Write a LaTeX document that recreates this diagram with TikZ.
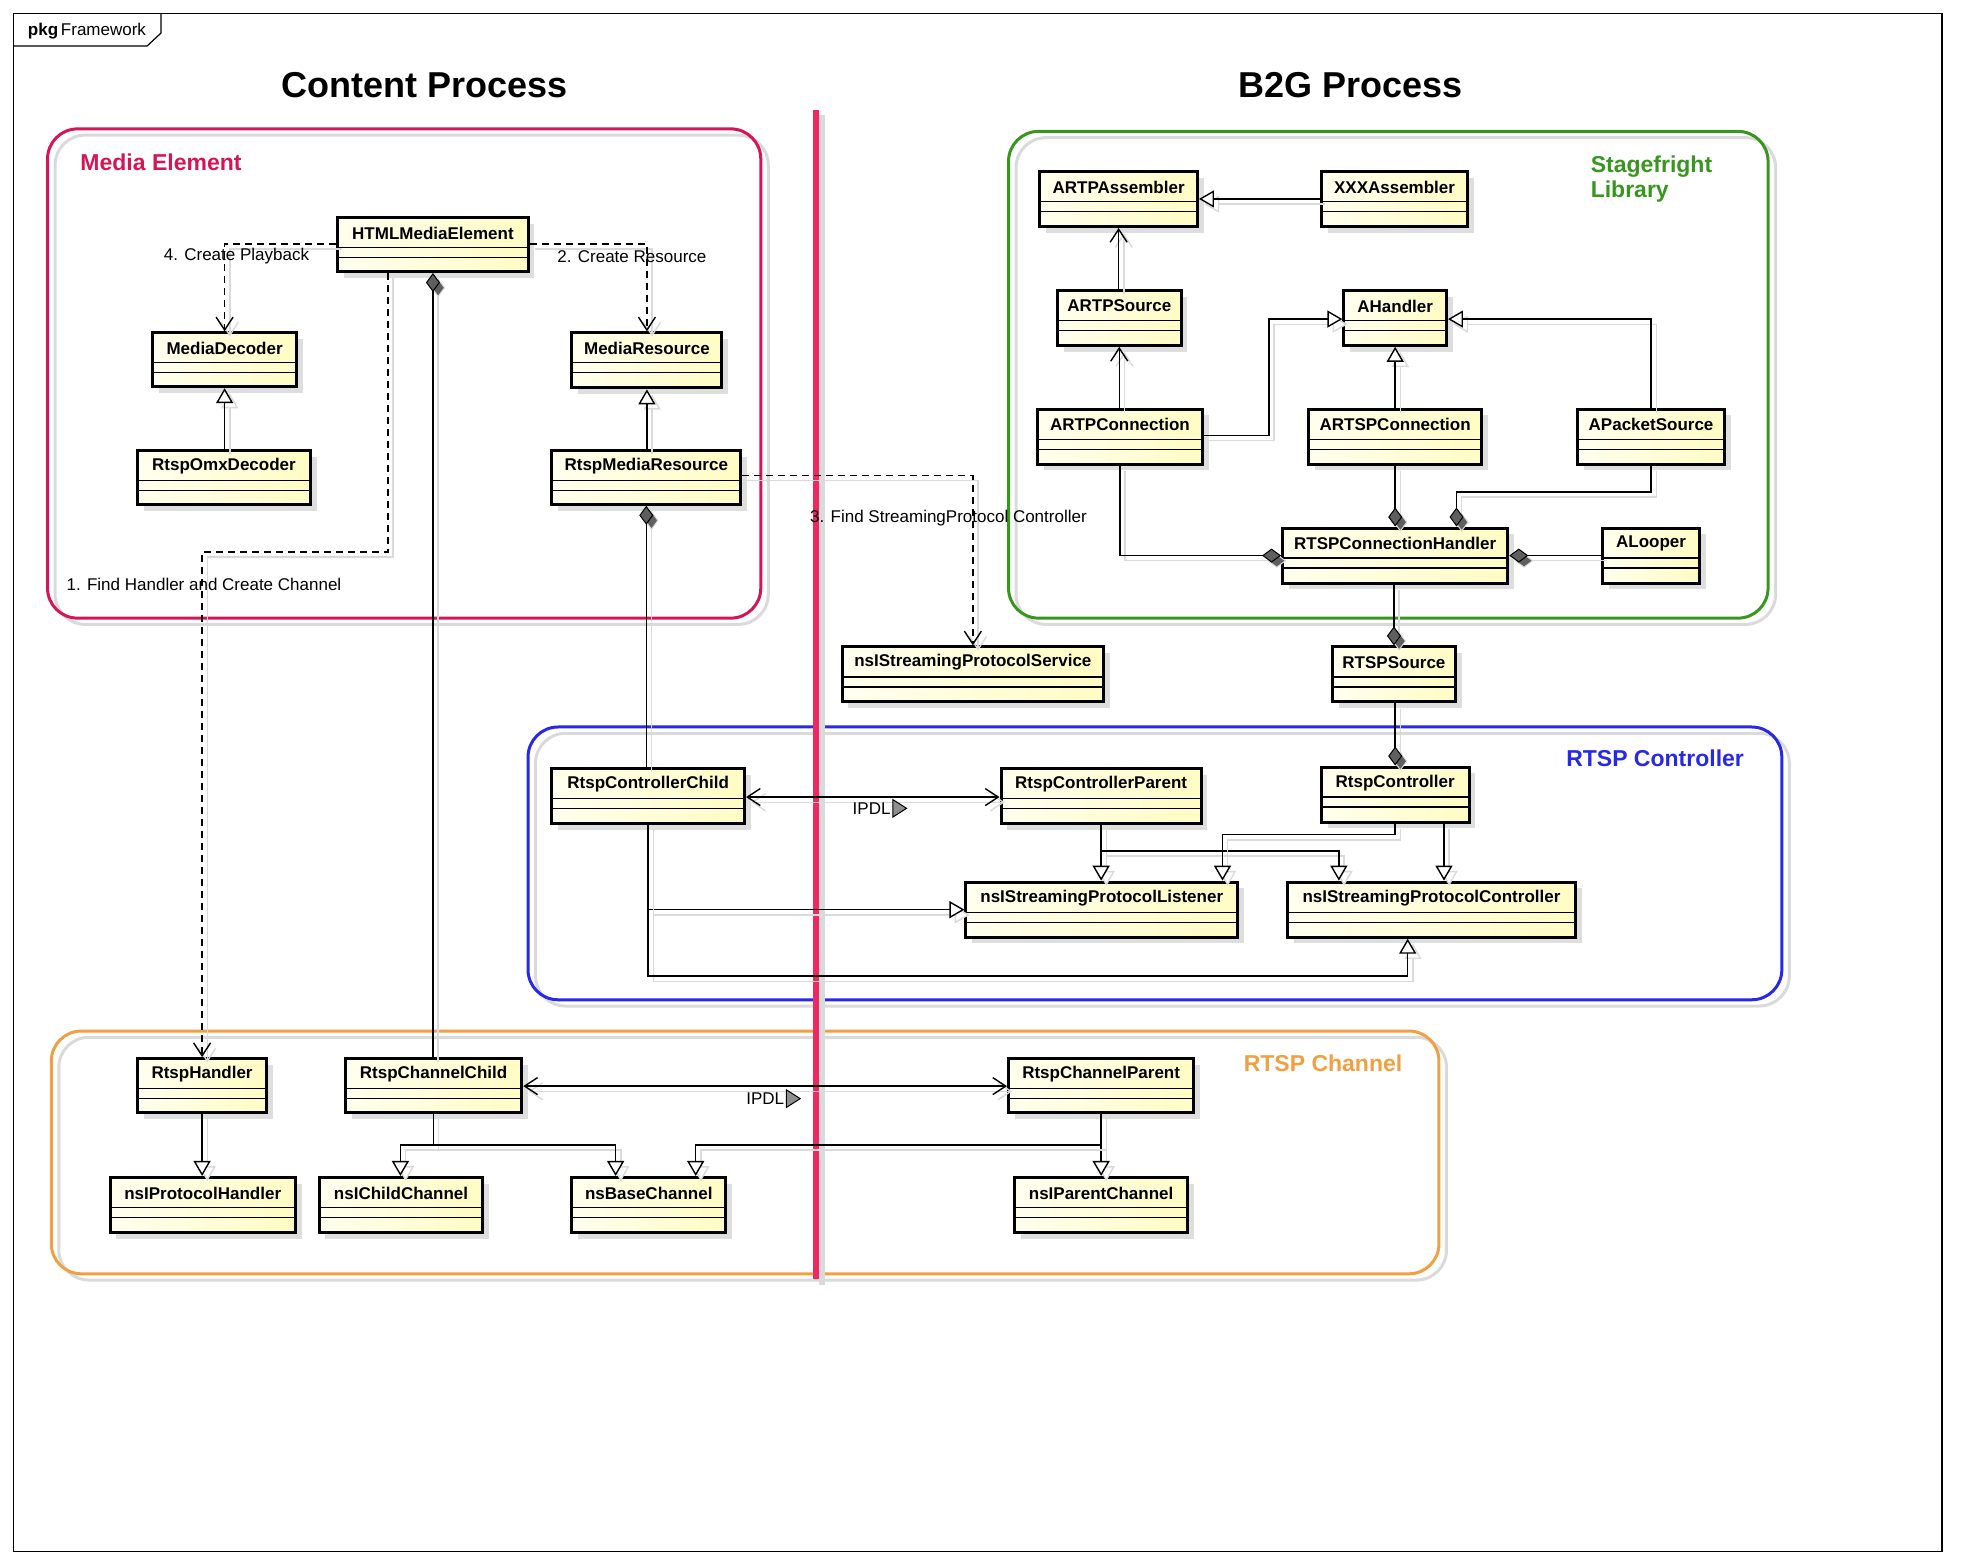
\documentclass[tikz,border=0pt]{standalone}
\usepackage{fontspec}
\setmainfont{Liberation Sans}
\usetikzlibrary{arrows.meta,fit,calc,shadings}
\definecolor{clsA}{RGB}{255,255,238}
\definecolor{clsB}{RGB}{255,252,196}
\definecolor{meC}{RGB}{214,22,84}
\definecolor{sfC}{RGB}{56,150,30}
\definecolor{rcC}{RGB}{40,40,230}
\definecolor{chC}{RGB}{240,160,64}
\definecolor{divC}{RGB}{240,40,95}
\definecolor{shadeC}{RGB}{222,222,222}
\definecolor{lineshC}{RGB}{218,218,218}
\definecolor{diaC}{RGB}{95,95,95}
\tikzset{
  clsbox/.style={draw=black, line width=1.5pt, inner sep=0pt, left color=clsA, right color=clsB},
  boxshadow/.style={fill=shadeC},
  sepline/.style={line width=0.6pt},
  clsname/.style={font=\bfseries\fontsize{8.5}{10}\selectfont, inner sep=0pt},
  lbl/.style={font=\fontsize{8.5}{10}\selectfont, inner sep=0pt},
  pkgttl/.style={font=\bfseries\fontsize{11.5}{12.5}\selectfont, inner sep=0pt},
  title/.style={font=\bfseries\fontsize{18}{20}\selectfont, inner sep=0pt},
  pkgframe/.style={line width=1.5pt, rounded corners=15pt},
  pkgshadow/.style={line width=1.5pt, rounded corners=15pt, draw=lineshC},
  conn/.style={line width=0.75pt, preaction={draw=lineshC, line width=0.7pt, transform canvas={shift={(2.6pt,-2.6pt)}}}},
  dashy/.style={dash pattern=on 3.5pt off 2.5pt},
  openarr/.style={-{Straight Barb[length=6.5pt,width=8.5pt,line width=0.7pt]}},
  biopen/.style={{Straight Barb[length=6.5pt,width=8.5pt,line width=0.7pt]}-{Straight Barb[length=6.5pt,width=8.5pt,line width=0.7pt]}},
  gen/.style={-{Triangle[length=7.5pt,width=8.5pt,fill=white,line width=0.7pt]}},
  comp/.style={{Diamond[length=9.5pt,width=7pt,fill=diaC,line width=0.5pt]}-},
}
\newcommand\umlcls[6]{%
  \fill[boxshadow] (#2+5,#3+5) rectangle (#4+5,#5+5);
  \node[clsbox, fit={(#2,#3) (#4,#5)}] (#1) {};
  \draw[sepline] (#2,#3+24) -- (#4,#3+24) (#2,#3+32) -- (#4,#3+32);
  \node[clsname] (#1-name) at ({(#2+#4)/2},#3+12.5) {#6};
}
\newcommand\ipdlmark[3]{%
  \node[lbl, anchor=east] (#1) at (#2,#3) {IPDL};
  \draw[line width=0.5pt, fill=diaC!70] ($(#1.east)+(1.5,-7)$) -- ++(11,7) -- ++(-11,7) -- cycle;
}
\begin{document}
\begin{tikzpicture}[x=0.62564pt,y=-0.62564pt]
\useasboundingbox (0,0) rectangle (1568,1251);
% outer frame
\draw[line width=0.6pt] (10.5,10.5) rectangle (1552,1240);
\draw[line width=0.6pt] (10.5,36.8) -- (117.5,36.8) -- (128.7,26.4) -- (128.7,10.5);
\node[lbl, anchor=west] (pkgtag) at (22,24.5) {\textbf{pkg}\,Framework};
% titles
\node[title] (tcontent) at (339,68) {Content Process};
\node[title] (tb2g) at (1079,68) {B2G Process};
% packages
\draw[pkgshadow] (44,108) rectangle (614,499);
\draw[pkgframe, draw=meC] (38,103) rectangle (608,494);
\node[pkgttl, text=meC, anchor=west] (pme) at (64,130) {Media Element};
\draw[pkgshadow] (812,110) rectangle (1419,499);
\draw[pkgframe, draw=sfC] (806,105) rectangle (1413,494);
\node[pkgttl, text=sfC, anchor=north west, align=left, font=\bfseries\fontsize{11.5}{12.6}\selectfont] (psf) at (1271,124) {Stagefright\\Library};
\draw[pkgshadow] (428,586) rectangle (1430,804);
\draw[pkgframe, draw=rcC] (422,581) rectangle (1424,799);
\node[pkgttl, text=rcC, anchor=east] (prc) at (1394,606) {RTSP Controller};
\draw[pkgshadow] (47,829) rectangle (1156,1023);
\draw[pkgframe, draw=chC] (41,824) rectangle (1150,1018);
\node[pkgttl, text=chC, anchor=east] (pch) at (1121,850) {RTSP Channel};
% divider
\draw[line width=3pt, lineshC] (657,92) -- (657,1027);
\draw[line width=3pt, divC] (652,88) -- (652,1022);
% classes
\umlcls{html}{270}{174}{422}{217}{HTMLMediaElement}
\umlcls{md}{122}{266}{237}{309}{MediaDecoder}
\umlcls{rod}{110}{360}{248}{403}{RtspOmxDecoder}
\umlcls{mr}{457}{266}{577}{310}{MediaResource}
\umlcls{rmr}{441}{360}{592}{403}{RtspMediaResource}
\umlcls{artpasm}{831}{137}{957}{181}{ARTPAssembler}
\umlcls{xxx}{1056}{137}{1173}{181}{XXXAssembler}
\umlcls{artpsrc}{845}{232}{944}{276}{ARTPSource}
\umlcls{ahandler}{1074}{232}{1156}{276}{AHandler}
\umlcls{artpconn}{829}{327}{961}{371}{ARTPConnection}
\umlcls{artspconn}{1046}{327}{1184}{371}{ARTSPConnection}
\umlcls{apkt}{1261}{327}{1378}{371}{APacketSource}
\umlcls{rtspch}{1025}{422}{1205}{466}{RTSPConnectionHandler}
\umlcls{alooper}{1281}{422}{1358}{466}{ALooper}
\umlcls{sps}{673}{517}{882}{561}{nsIStreamingProtocolService}
\umlcls{rtspsrc}{1065}{517}{1163}{561}{RTSPSource}
\umlcls{rcch}{441}{614}{595}{658}{RtspControllerChild}
\umlcls{rcpar}{800}{614}{960}{658}{RtspControllerParent}
\umlcls{rtspctl}{1056}{613}{1174}{657}{RtspController}
\umlcls{lis}{772}{705}{989}{749}{nsIStreamingProtocolListener}
\umlcls{ctl}{1029}{705}{1259}{749}{nsIStreamingProtocolController}
\umlcls{rh}{110}{846}{213}{889}{RtspHandler}
\umlcls{rcc}{276}{846}{417}{889}{RtspChannelChild}
\umlcls{rcp}{806}{846}{954}{889}{RtspChannelParent}
\umlcls{nph}{88}{941}{236}{985}{nsIProtocolHandler}
\umlcls{ncc}{255}{941}{386}{985}{nsIChildChannel}
\umlcls{nbc}{457}{941}{580}{985}{nsBaseChannel}
\umlcls{npc}{811}{941}{949}{985}{nsIParentChannel}
% connectors: media element
\draw[conn,dashy,openarr] (html.west |- 0,195) -| (md.north);
\draw[conn,dashy,openarr] (html.east |- 0,195) -| (mr.north);
\draw[conn,dashy,openarr] (310,0 |- html.south) -- (310,441) -| (rh.north);
\draw[conn,comp] (html.south) -- (html.south |- rcc.north);
\draw[conn,gen] (md.south |- rod.north) -- (md.south);
\draw[conn,gen] (mr.south |- rmr.north) -- (mr.south);
\draw[conn,dashy,openarr] (rmr.east |- 0,380) -| (sps.north);
\draw[conn,comp] (rmr.south) -- (rmr.south |- rcch.north);
% stagefright
\draw[conn,gen] (xxx.west |- 0,159) -- (artpasm.east |- 0,159);
\draw[conn,openarr] (artpasm.south |- artpsrc.north) -- (artpasm.south);
\draw[conn,openarr] (artpsrc.south |- artpconn.north) -- (artpsrc.south);
\draw[conn,gen] (artpconn.east |- 0,348) -- (1014,348) |- (ahandler.west |- 0,255);
\draw[conn,gen] (ahandler.south |- artspconn.north) -- (ahandler.south);
\draw[conn,gen] (apkt.north) |- (ahandler.east |- 0,255);
\draw[conn,comp] (rtspch.north) -- (rtspch.north |- artspconn.south);
\draw[conn,comp] (1164,0 |- rtspch.north) -- (1164,393) -| (apkt.south);
\draw[conn,comp] (rtspch.west |- 0,444) -| (artpconn.south);
\draw[conn,comp] (rtspch.east |- 0,444) -- (alooper.west |- 0,444);
\draw[conn,comp] (rtspsrc.north) -- (rtspsrc.north |- rtspch.south);
\draw[conn,comp] (rtspctl.north) -- (rtspctl.north |- rtspsrc.south);
% rtsp controller
\draw[conn,biopen] (rcch.east |- 0,637) -- (rcpar.west |- 0,637);
\draw[conn,gen] (rcpar.south) -- (rcpar.south |- lis.north);
\draw[conn,gen] (rcpar.south) |- (1070,680) -- (1070,0 |- ctl.north);
\draw[conn,gen] (rtspctl.south) |- (977,667) -- (977,0 |- lis.north);
\draw[conn,gen] (1154,0 |- rtspctl.south) -- (1154,0 |- ctl.north);
\draw[conn,gen] (rcch.south) |- (lis.west |- 0,727);
\draw[conn,gen] (rcch.south) |- (1125,780) -- (1125,0 |- ctl.south);
% rtsp channel
\draw[conn,gen] (rh.south) -- (rh.south |- nph.north);
\draw[conn,gen] (rcc.south) |- (320,915) -- (320,0 |- ncc.north);
\draw[conn,gen] (rcc.south) |- (492,915) -- (492,0 |- nbc.north);
\draw[conn,biopen] (rcc.east |- 0,868) -- (rcp.west |- 0,868);
\draw[conn,gen] (rcp.south) -- (rcp.south |- npc.north);
\draw[conn,gen] (rcp.south) |- (556,915) -- (556,0 |- nbc.north);
% labels
\node[lbl] (l4) at (189,205) {4. Create Playback};
\node[lbl] (l2) at (505,205) {2. Create Resource};
\node[lbl] (l1) at (163,467) {1. Find Handler and Create Channel};
\node[lbl] (l3) at (758,414) {3. Find StreamingProtocol Controller};
\ipdlmark{ipdl1}{712}{646}
\ipdlmark{ipdl2}{627}{878}
\end{tikzpicture}
\end{document}
